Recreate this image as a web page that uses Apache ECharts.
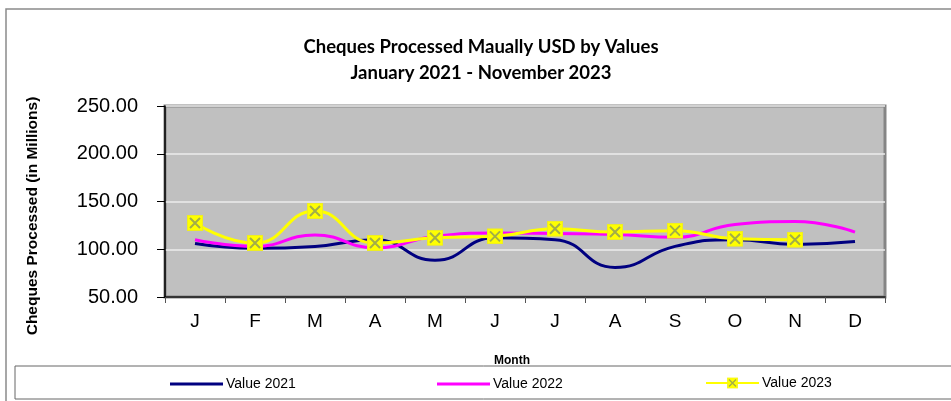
<!DOCTYPE html>
<html>
<head>
<meta charset="utf-8">
<script src="https://cdn.jsdelivr.net/npm/echarts@6/dist/echarts.min.js"></script>
<style>
  html, body { margin: 0; padding: 0; background: #fff; }
  #chart { width: 951px; height: 401px; }
</style>
</head>
<body>
<div id="chart"></div>
<script>
// 月份首字母 + 三年的数值（单位：百万美元）
const MONTHS = ['J', 'F', 'M', 'A', 'M', 'J', 'J', 'A', 'S', 'O', 'N', 'D'];
const VALUE_2021 = [106, 101, 103, 110, 88.5, 112, 110, 81, 103, 110, 105, 108];
const VALUE_2022 = [110, 103, 115, 101.5, 113.5, 117, 116.5, 115.5, 112.5, 126, 129, 118];
const VALUE_2023 = [127.5, 106.5, 140, 106.5, 112, 113.5, 121.5, 118, 119.5, 111, 110, null];
const SERIES_NAMES = ['Value 2021', 'Value 2022', 'Value 2023'];

// 黄色方块 + 橄榄色叉号的标记
const markSvg = '<svg xmlns="http://www.w3.org/2000/svg" width="16" height="16" viewBox="0 0 16 16">' +
  '<rect x="0.5" y="0.5" width="15" height="15" fill="#ffff00" stroke="#eeee20"/>' +
  '<path d="M3 3L13 13M13 3L3 13" stroke="#a2ae48" stroke-width="2"/></svg>';
const MARK = 'image://data:image/svg+xml;charset=utf-8,' + encodeURIComponent(markSvg);

const FONT = '"Liberation Sans", Arial, sans-serif';

const chart = echarts.init(document.getElementById('chart'), null, { renderer: 'canvas' });

// 每个图例单独摆放，前两项只画一条线
function legendAt(name, left, lineOnly) {
  return {
    data: [lineOnly ? { name, icon: 'rect' } : name],
    left, top: lineOnly ? 372 : 371, itemWidth: 53, itemHeight: lineOnly ? 3 : 14, itemGap: 4, z: 20,
    textStyle: { fontFamily: FONT, fontSize: 14, color: '#000', padding: [0, 0, 0, -2] },
  };
}

chart.setOption({
  animation: false,
  backgroundColor: '#fff',
  title: {
    text: 'Cheques Processed Maually USD by Values\nJanuary 2021 - November 2023',
    left: 476, top: 29, textAlign: 'center',
    textStyle: { fontFamily: 'Lato, "Open Sans", sans-serif', fontWeight: 'bold', fontSize: 18.5, lineHeight: 26, color: '#000' },
  },
  graphic: [
    { type: 'rect', shape: { x: 6, y: 9, width: 1000, height: 500 }, style: { fill: 'none', stroke: '#8a8a8a', lineWidth: 1.5 }, z: -10 },
    {
      type: 'text', x: 33, y: 216, rotation: Math.PI / 2,
      style: { text: 'Cheques Processed (in Millions)', font: 'bold 15.5px ' + FONT, fill: '#000', align: 'center', verticalAlign: 'middle' },
    },
    { type: 'text', left: 494, top: 355, style: { text: 'Month', font: 'bold 12px ' + FONT, fill: '#000' }, z: 5 },
    { type: 'rect', shape: { x: 15, y: 366, width: 1000, height: 33 }, style: { fill: '#fff', stroke: '#666', lineWidth: 1 }, z: 6 },
  ],
  legend: [legendAt(SERIES_NAMES[0], 165, true), legendAt(SERIES_NAMES[1], 432, true), legendAt(SERIES_NAMES[2], 700, false)],
  grid: {
    left: 165, right: 66, top: 106, bottom: 104,
    show: true, backgroundColor: '#c0c0c0', borderColor: '#858585', borderWidth: 3,
  },
  xAxis: {
    type: 'category', data: MONTHS, boundaryGap: true,
    axisLine: { lineStyle: { color: '#000', width: 1.5 } },
    axisTick: { show: true, length: 6, lineStyle: { color: '#555' } },
    axisLabel: { fontFamily: FONT, fontSize: 19, color: '#000', margin: 15 },
  },
  yAxis: {
    type: 'value', min: 50, max: 250, interval: 50,
    axisLine: { show: true, lineStyle: { color: '#000', width: 1.5 } },
    axisTick: { show: true, length: 8, lineStyle: { color: '#000' } },
    axisLabel: { fontFamily: FONT, fontSize: 20, color: '#000', margin: 27, formatter: (v) => v.toFixed(2) },
    splitLine: { lineStyle: { color: '#ececec', width: 1.5 } },
  },
  series: [
    {
      name: SERIES_NAMES[0], type: 'line', smooth: 0.5, symbol: 'none', data: VALUE_2021,
      color: '#000080', lineStyle: { width: 3, color: '#000080' }, z: 2,
    },
    {
      name: SERIES_NAMES[1], type: 'line', smooth: 0.5, symbol: 'none', data: VALUE_2022,
      color: '#ff00ff', lineStyle: { width: 3, color: '#ff00ff' }, z: 3,
    },
    {
      name: SERIES_NAMES[2], type: 'line', smooth: 0.5, symbol: MARK, symbolSize: 16, showSymbol: true,
      data: VALUE_2023, color: '#ffff00', lineStyle: { width: 3, color: '#ffff00' }, z: 4,
    },
  ],
});
</script>
</body>
</html>
